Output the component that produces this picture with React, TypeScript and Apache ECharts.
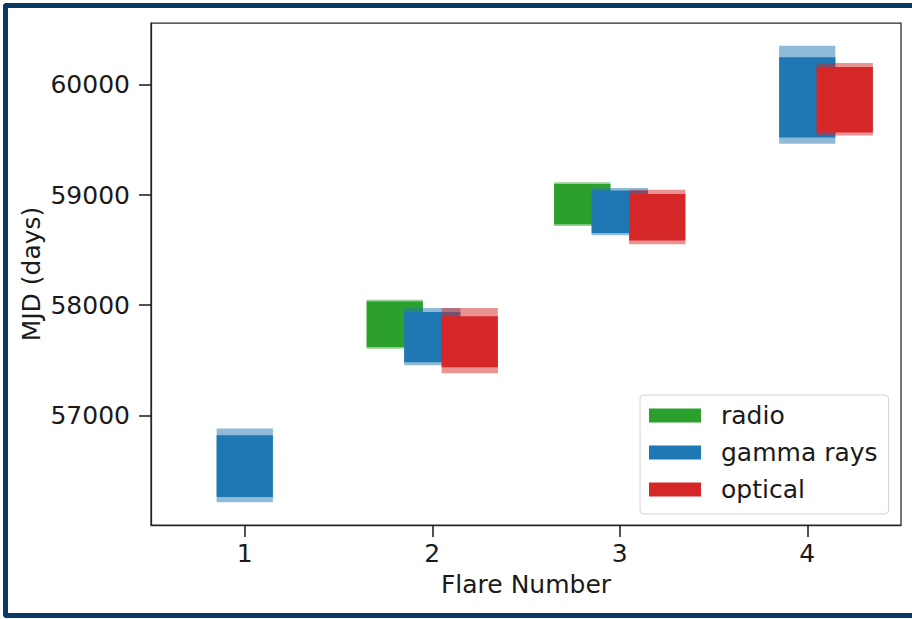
import React, { useEffect, useRef } from 'react';
import * as echarts from 'echarts';

// Flare epochs in MJD: solid span plus faint uncertainty caps at each end
const seriesNames = ['radio', 'gamma rays', 'optical'];
const seriesColors = ['#2ca02c', '#1f77b4', '#d62728'];

const radioFlare = [2, 3];
const radioOuterLow = [57605, 58720];
const radioInnerLow = [57620, 58735];
const radioInnerHigh = [58035, 59100];
const radioOuterHigh = [58050, 59115];

const gammaFlare = [1, 2, 3, 4];
const gammaOuterLow = [56213, 57456, 58634, 59465];
const gammaInnerLow = [56259, 57482, 58656, 59522];
const gammaInnerHigh = [56820, 57939, 59042, 60251];
const gammaOuterHigh = [56881, 57976, 59063, 60354];

const opticalFlare = [2, 3, 4];
const opticalOuterLow = [57384, 58553, 59541];
const opticalInnerLow = [57438, 58588, 59568];
const opticalInnerHigh = [57900, 59009, 60161];
const opticalOuterHigh = [57976, 59048, 60197];

const xTicks = [1, 2, 3, 4];
const yTicks = [57000, 58000, 59000, 60000];

const BAR_WIDTH = 0.3;
const OFFSETS = [-0.2, 0, 0.2];
const FONT = '"DejaVu Sans", sans-serif';
const TEXT = '#1a1a1a';
const SPINE = '#262626';

function rows(flare: number[], oLo: number[], iLo: number[], iHi: number[], oHi: number[]) {
  return flare.map((f, i) => [f, oLo[i], iLo[i], iHi[i], oHi[i]]);
}

const seriesData = [
  rows(radioFlare, radioOuterLow, radioInnerLow, radioInnerHigh, radioOuterHigh),
  rows(gammaFlare, gammaOuterLow, gammaInnerLow, gammaInnerHigh, gammaOuterHigh),
  rows(opticalFlare, opticalOuterLow, opticalInnerLow, opticalInnerHigh, opticalOuterHigh),
];

export default function App() {
  const ref = useRef<HTMLDivElement>(null);

  useEffect(() => {
    if (!ref.current) return;
    const chart = echarts.init(ref.current, null, { renderer: 'svg' });

    const series = seriesNames.map((name, s) => ({
      type: 'custom',
      name,
      itemStyle: { color: seriesColors[s] },
      encode: { x: 0, y: [1, 2, 3, 4] },
      data: seriesData[s],
      renderItem: (_params: any, api: any) => {
        const x = api.value(0) + OFFSETS[s] - BAR_WIDTH / 2;
        const oLo = api.value(1);
        const iLo = api.value(2);
        const iHi = api.value(3);
        const oHi = api.value(4);
        const a1 = api.coord([x, oHi]);
        const a2 = api.coord([x + BAR_WIDTH, oLo]);
        const b1 = api.coord([x, iHi]);
        const b2 = api.coord([x + BAR_WIDTH, iLo]);
        return {
          type: 'group',
          children: [
            {
              type: 'rect',
              shape: { x: a1[0], y: a1[1], width: a2[0] - a1[0], height: a2[1] - a1[1] },
              style: { fill: seriesColors[s], opacity: 0.5 },
            },
            {
              type: 'rect',
              shape: { x: b1[0], y: b1[1], width: b2[0] - b1[0], height: b2[1] - b1[1] },
              style: { fill: seriesColors[s] },
            },
          ],
        };
      },
    }));

    chart.setOption({
      animation: false,
      backgroundColor: '#ffffff',
      textStyle: { fontFamily: FONT },
      grid: {
        left: 151,
        top: 23,
        width: 750,
        height: 502,
        show: true,
        borderColor: SPINE,
        borderWidth: 1.25,
        backgroundColor: 'transparent',
      },
      legend: {
        orient: 'vertical',
        left: 640,
        top: 395,
        data: seriesNames.map((n) => ({ name: n, icon: 'rect' })),
        itemWidth: 52,
        itemHeight: 14,
        itemGap: 12,
        padding: [8, 11, 12, 9],
        backgroundColor: 'rgba(255,255,255,0.8)',
        borderColor: '#d4d4d4',
        borderWidth: 1,
        borderRadius: 4,
        selectedMode: false,
        textStyle: {
          fontFamily: FONT,
          fontSize: 25,
          lineHeight: 25,
          color: TEXT,
          padding: [0, 0, 0, 15],
        },
      },
      xAxis: {
        type: 'value',
        min: 0.5,
        max: 4.5,
        name: 'Flare Number',
        nameLocation: 'middle',
        nameGap: 47,
        nameTextStyle: { fontFamily: FONT, fontSize: 25, color: TEXT },
        splitLine: { show: false },
        axisLine: { show: true, lineStyle: { color: SPINE, width: 1.25 } },
        axisTick: {
          show: true,
          length: 12,
          inside: false,
          customValues: xTicks,
          lineStyle: { color: TEXT, width: 1.5 },
        },
        axisLabel: {
          customValues: xTicks,
          margin: 16,
          fontFamily: FONT,
          fontSize: 25,
          color: TEXT,
        },
      },
      yAxis: {
        type: 'value',
        min: 56006,
        max: 60561,
        name: 'MJD (days)',
        nameLocation: 'middle',
        nameGap: 107,
        nameMoveOverlap: false,
        nameTextStyle: { fontFamily: FONT, fontSize: 25, color: TEXT },
        splitLine: { show: false },
        axisLine: { show: true, lineStyle: { color: SPINE, width: 1.25 } },
        axisTick: {
          show: true,
          length: 12,
          inside: false,
          customValues: yTicks,
          lineStyle: { color: TEXT, width: 1.5 },
        },
        axisLabel: {
          customValues: yTicks,
          margin: 21,
          fontFamily: FONT,
          fontSize: 25,
          color: TEXT,
          formatter: (v: number) => String(v),
        },
      },
      series,
    });

    return () => chart.dispose();
  }, []);

  return (
    <>
      <div
        ref={ref}
        style={{ position: 'absolute', left: 0, top: 0, width: 912, height: 619 }}
      />
      <div
        style={{
          position: 'absolute',
          left: 3,
          top: 3,
          width: 904,
          height: 605,
          borderLeft: '5px solid #073963',
          borderTop: '5px solid #073963',
          borderBottom: '5px solid #073963',
          borderRadius: '4px 0 0 4px',
          pointerEvents: 'none',
        }}
      />
    </>
  );
}
